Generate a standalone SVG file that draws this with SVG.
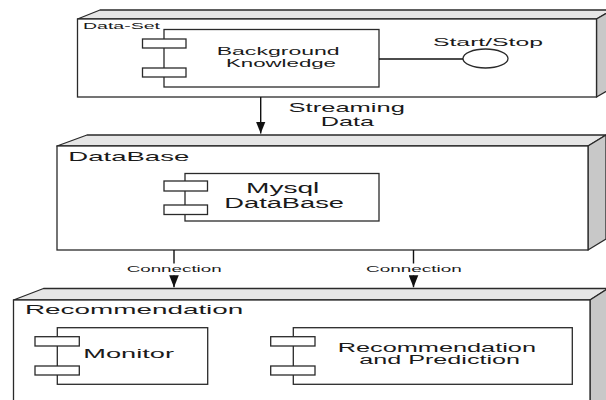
<svg xmlns="http://www.w3.org/2000/svg" width="606" height="400" viewBox="0 0 606 400">
<defs>
<style>
.front{fill:#fff;stroke:#2a2a2a;stroke-width:1.3}
.top{fill:#e6e6e6;stroke:#2a2a2a;stroke-width:1.3;stroke-linejoin:round}
.side{fill:#c8c8c8;stroke:#2a2a2a;stroke-width:1.3;stroke-linejoin:round}
.comp{fill:#fff;stroke:#2a2a2a;stroke-width:1.3}
.t{font-family:"Liberation Sans",Arial,sans-serif;fill:#1a1a1a}
.conn{fill:none;stroke:#111;stroke-width:1.4}
</style>
<marker id="arrow" markerUnits="userSpaceOnUse" markerWidth="12" markerHeight="10" viewBox="0 0 10 8" refX="10" refY="4" orient="auto">
<path d="M0,0 L10,4 L0,8 z" fill="#111"/>
</marker>
</defs>

<g id="node-dataset">
<polygon class="top" points="77.5,19 100,10 612,10 596.5,19"/>
<polygon class="side" points="596.5,19 612,10 612,88 596.5,97"/>
<rect class="front" x="77.5" y="19" width="519" height="78"/>
<text class="t" x="83" y="28.5" font-size="9.5" textLength="77" lengthAdjust="spacingAndGlyphs">Data-Set</text>
</g>

<g id="node-background-knowledge">
<rect class="comp" x="164" y="29.5" width="215" height="57.5"/>
<rect class="comp" x="142.5" y="39" width="43.5" height="9"/>
<rect class="comp" x="142.5" y="68" width="43.5" height="9"/>
<text class="t" x="216.7" y="55" font-size="11" textLength="123" lengthAdjust="spacingAndGlyphs">Background</text>
<text class="t" x="226" y="66.7" font-size="11" textLength="110" lengthAdjust="spacingAndGlyphs">Knowledge</text>
</g>

<g id="node-start-stop">
<ellipse class="comp" cx="485.5" cy="58.5" rx="22.5" ry="9.5"/>
<text class="t" x="433" y="45.7" font-size="11.5" textLength="110" lengthAdjust="spacingAndGlyphs">Start/Stop</text>
</g>

<g id="node-database">
<polygon class="top" points="57,146 87,135 606,135 588,146"/>
<polygon class="side" points="588,146 606,135 606,239 588,250"/>
<rect class="front" x="57" y="146" width="531" height="104"/>
<text class="t" x="68.3" y="160.7" font-size="13" textLength="121" lengthAdjust="spacingAndGlyphs">DataBase</text>
</g>

<g id="node-mysql">
<rect class="comp" x="185" y="173.5" width="194" height="47.5"/>
<rect class="comp" x="164" y="181" width="43.5" height="10"/>
<rect class="comp" x="164" y="205" width="43.5" height="9.5"/>
<text class="t" x="246" y="193.3" font-size="14" textLength="73.3" lengthAdjust="spacingAndGlyphs">Mysql</text>
<text class="t" x="224.3" y="208.3" font-size="14" textLength="119.7" lengthAdjust="spacingAndGlyphs">DataBase</text>
</g>

<g id="node-recommendation">
<polygon class="top" points="13.5,300 43.5,288.5 608,288.5 590,300"/>
<polygon class="side" points="590,300 608,288.5 608,420 590,420"/>
<rect class="front" x="13.5" y="300" width="576.5" height="120"/>
<text class="t" x="25" y="314.3" font-size="13" textLength="218.3" lengthAdjust="spacingAndGlyphs">Recommendation</text>
</g>

<g id="node-monitor">
<rect class="comp" x="57.3" y="327.7" width="150.4" height="56.6"/>
<rect class="comp" x="35" y="336.7" width="44.3" height="9.3"/>
<rect class="comp" x="35" y="366" width="44.3" height="9"/>
<text class="t" x="83.3" y="358.3" font-size="13" textLength="90.7" lengthAdjust="spacingAndGlyphs">Monitor</text>
</g>

<g id="node-recommendation-prediction">
<rect class="comp" x="293.3" y="327.7" width="279" height="56.6"/>
<rect class="comp" x="270.7" y="336.7" width="44.3" height="9.3"/>
<rect class="comp" x="270.7" y="366" width="44.3" height="9"/>
<text class="t" x="337.7" y="351.7" font-size="12" textLength="198.3" lengthAdjust="spacingAndGlyphs">Recommendation</text>
<text class="t" x="359.3" y="364.3" font-size="12" textLength="160.7" lengthAdjust="spacingAndGlyphs">and Prediction</text>
</g>

<g id="connectors">
<line class="conn" x1="379" y1="59" x2="463" y2="59" stroke-width="1"/>
<path class="conn" d="M260.7,97 V133.5" marker-end="url(#arrow)"/>
<text class="t" x="288.6" y="112.2" font-size="12.2" textLength="116.3" lengthAdjust="spacingAndGlyphs">Streaming</text>
<text class="t" x="320.7" y="125.5" font-size="12.2" textLength="53.3" lengthAdjust="spacingAndGlyphs">Data</text>
<path class="conn" d="M174,250 V263.5 M174,275.5 V287.3" marker-end="url(#arrow)"/>
<text class="t" x="126.7" y="271.7" font-size="8.5" textLength="95" lengthAdjust="spacingAndGlyphs">Connection</text>
<path class="conn" d="M413.5,250 V263.5 M413.5,275.5 V287.3" marker-end="url(#arrow)"/>
<text class="t" x="366" y="271.7" font-size="8.5" textLength="95.7" lengthAdjust="spacingAndGlyphs">Connection</text>
</g>
</svg>
